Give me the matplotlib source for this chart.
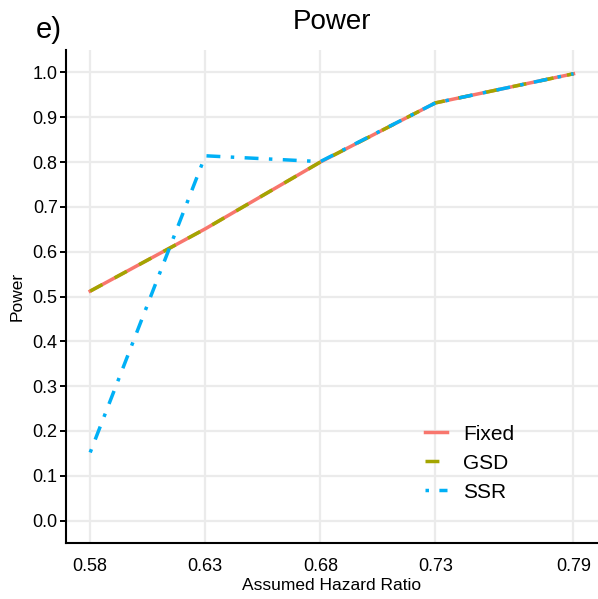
import matplotlib
matplotlib.use("Agg")
import matplotlib.pyplot as plt

# -------------------------
# Data
# -------------------------
hazard_ratio = [0.58, 0.63, 0.68, 0.73, 0.79]
power_fixed = [0.512, 0.651, 0.800, 0.932, 0.997]
power_gsd = [0.512, 0.651, 0.800, 0.932, 0.997]
power_ssr = [0.152, 0.814, 0.801, 0.932, 0.997]
y_ticks = [0.0, 0.1, 0.2, 0.3, 0.4, 0.5, 0.6, 0.7, 0.8, 0.9, 1.0]

plt.rcParams["font.family"] = ["Liberation Sans", "DejaVu Sans"]

fig = plt.figure(figsize=(5.98, 5.99), dpi=100)
ax = fig.add_axes([0.1104, 0.0935, 0.889, 0.823])

grid_col = "#EBEBEB"
ax.set_axisbelow(True)
ax.grid(True, color=grid_col, linewidth=1.6)

lw = 2.5
ax.plot(hazard_ratio, power_fixed, color="#F8766D", linewidth=lw, label="Fixed")
ax.plot(hazard_ratio, power_gsd, color="#A3A500", linewidth=lw,
        dashes=(4, 4), label="GSD")
ax.plot(hazard_ratio, power_ssr, color="#00B0F6", linewidth=lw,
        dashes=(1, 3, 4, 3), label="SSR")

ax.set_xlim(0.5695, 0.8005)
ax.set_ylim(-0.05, 1.05)
ax.set_xticks(hazard_ratio)
ax.set_xticklabels([f"{v:.2f}" for v in hazard_ratio])
ax.set_yticks(y_ticks)
ax.set_yticklabels([f"{v:.1f}" for v in y_ticks])

for side in ["top", "right"]:
    ax.spines[side].set_visible(False)
for side in ["left", "bottom"]:
    ax.spines[side].set_linewidth(1.5)

ax.tick_params(axis="y", length=4, width=1.4, labelsize=13, pad=2)
ax.tick_params(axis="x", length=0, labelsize=13, pad=11)

ax.set_xlabel("Assumed Hazard Ratio", fontsize=12.5, labelpad=2)
ax.set_ylabel("Power", fontsize=12.5, labelpad=6)
ax.set_title("Power", fontsize=20, pad=15)
fig.text(0.082, 0.95, "e)", fontsize=21, ha="center", va="center")

leg = ax.legend(loc="upper left", bbox_to_anchor=(0.675, 0.240), frameon=False,
                fontsize=15, handlelength=1.05, handletextpad=0.77,
                labelspacing=0.48, borderpad=0, borderaxespad=0)

fig.savefig("out.png", dpi=100)
